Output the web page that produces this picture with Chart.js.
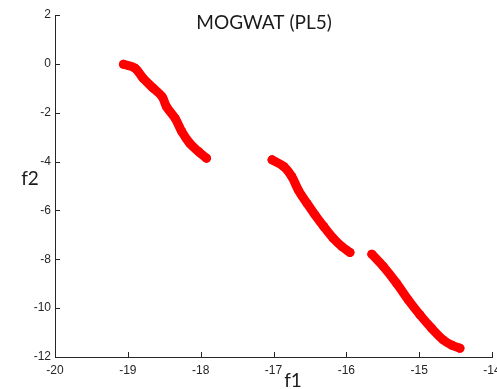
<!DOCTYPE html>
<html>
<head>
<meta charset="utf-8">
<script src="https://cdn.jsdelivr.net/npm/chart.js@4.4.0/dist/chart.umd.min.js"></script>
<style>
  html, body { margin: 0; padding: 0; background: #fff; }
  #wrap { width: 497px; height: 389px; }
</style>
</head>
<body>
<div id="wrap"><canvas id="chart_front"></canvas></div>
<script>
const titleText = 'MOGWAT (PL5)'
const xLabel = 'f1'
const yLabel = 'f2'

// three pieces of the front
const seg1X = [-19.06, -18.90, -18.79, -18.65, -18.53, -18.47, -18.35, -18.26, -18.15, -18.03, -17.92]
const seg1Y = [-0.02, -0.18, -0.59, -1.00, -1.34, -1.75, -2.23, -2.77, -3.25, -3.59, -3.86]
const seg2X = [-17.02, -16.86, -16.75, -16.66, -16.54, -16.43, -16.31, -16.18, -16.06, -15.95]
const seg2Y = [-3.93, -4.20, -4.61, -5.16, -5.71, -6.18, -6.66, -7.14, -7.48, -7.72]
const seg3X = [-15.65, -15.49, -15.31, -15.15, -14.99, -14.83, -14.67, -14.55, -14.44]
const seg3Y = [-7.79, -8.30, -8.98, -9.66, -10.27, -10.82, -11.30, -11.52, -11.64]

const xMin = -20, xMax = -14, xStep = 1
const yMin = -12, yMax = 2, yStep = 2

const axisColor = '#262626'
const red = '#ff0000'

function pts(xs, ys) {
    return xs.map((x, i) => ({ x: x, y: ys[i] }))
}

function segment(xs, ys) {
    return {
        data: pts(xs, ys),
        showLine: true,
        tension: 0.35,
        borderColor: red,
        backgroundColor: red,
        borderWidth: 9,
        borderCapStyle: 'round',
        borderJoinStyle: 'round',
        pointRadius: 4.5,
        pointBorderWidth: 0,
        pointHoverRadius: 4.5
    }
}

// matlab style: ticks pointing inward, plus the text labels
const matlabAxes = {
    id: 'matlabAxes',
    afterDraw(chart) {
        const c = chart.ctx
        const a = chart.chartArea
        const xs = chart.scales.x, ys = chart.scales.y
        c.save()
        c.strokeStyle = axisColor
        c.lineWidth = 1
        c.beginPath()
        xs.ticks.forEach(t => {
            const px = Math.round(xs.getPixelForValue(t.value)) + 0.5
            c.moveTo(px, a.bottom)
            c.lineTo(px, a.bottom - 5)
        })
        ys.ticks.forEach(t => {
            const py = Math.round(ys.getPixelForValue(t.value)) + 0.5
            c.moveTo(a.left, py)
            c.lineTo(a.left + 5, py)
        })
        c.stroke()

        c.fillStyle = '#1a1a1a'
        c.textAlign = 'center'
        c.textBaseline = 'middle'
        c.font = '19px Lato'
        c.fillText(titleText, 264, 23)
        c.fillText(xLabel, 293, 381)
        c.fillText(yLabel, 30, 179)
        c.restore()
    }
}

const ctx = document.getElementById('chart_front')

let chartFront = new Chart(ctx, {
    type: 'scatter',
    data: {
        datasets: [
            segment(seg1X, seg1Y),
            segment(seg2X, seg2Y),
            segment(seg3X, seg3Y)
        ]
    },
    options: {
        responsive: true,
        maintainAspectRatio: false,
        animation: false,
        layout: {
            padding: { left: 0, top: 15, right: 5, bottom: 0 }
        },
        plugins: {
            legend: { display: false },
            tooltip: { enabled: false },
            title: { display: false }
        },
        scales: {
            x: {
                type: 'linear',
                min: xMin,
                max: xMax,
                grid: { display: false, drawTicks: false },
                border: { display: true, color: axisColor, width: 1 },
                ticks: {
                    stepSize: xStep,
                    autoSkip: false,
                    maxRotation: 0,
                    padding: 6,
                    color: axisColor,
                    font: { family: 'Liberation Sans', size: 12 }
                },
                afterFit: function(scale) {
                    scale.height = 32
                    scale.paddingLeft = 0
                    scale.paddingRight = 0
                }
            },
            y: {
                type: 'linear',
                min: yMin,
                max: yMax,
                grid: { display: false, drawTicks: false },
                border: { display: true, color: axisColor, width: 1 },
                ticks: {
                    stepSize: yStep,
                    autoSkip: false,
                    padding: 4,
                    color: axisColor,
                    font: { family: 'Liberation Sans', size: 12 }
                },
                afterFit: function(scale) {
                    scale.width = 55
                    scale.paddingTop = 0
                    scale.paddingBottom = 0
                }
            }
        }
    },
    plugins: [matlabAxes]
})
</script>
</body>
</html>
